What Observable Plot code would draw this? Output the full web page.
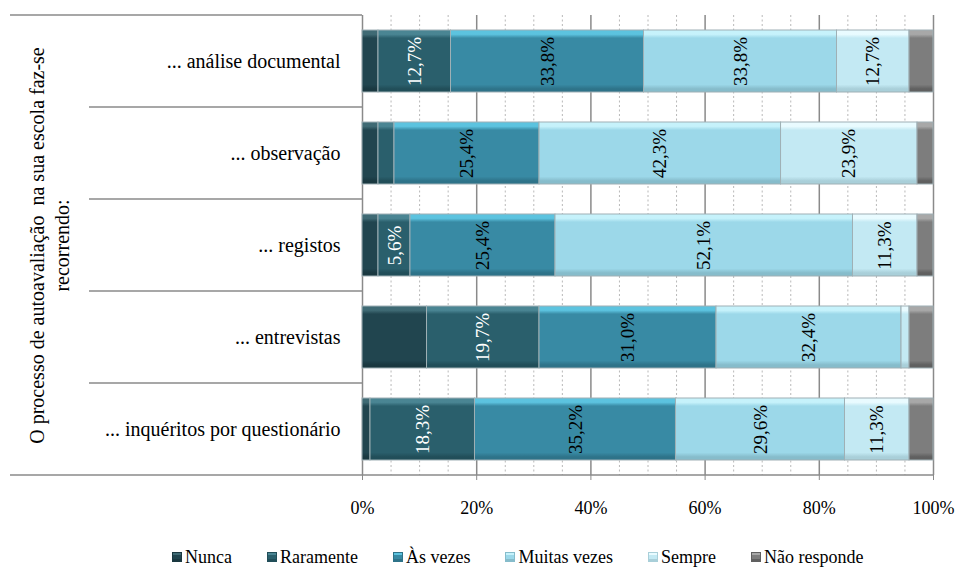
<!DOCTYPE html>
<html><head><meta charset="utf-8">
<script src="https://cdn.jsdelivr.net/npm/d3@7"></script>
<script src="https://cdn.jsdelivr.net/npm/@observablehq/plot@0.6"></script>
<style>
body{margin:0;background:#fff;font-family:"Liberation Serif","Times New Roman",serif;}
#legend{display:flex;align-items:center;padding-left:172px;height:34px;font-size:18px;color:#000;font-family:"Liberation Serif","Times New Roman",serif;}
.item{display:flex;align-items:center;margin-right:35px;white-space:nowrap;}
.sw{width:10px;height:10px;margin-right:3px;box-sizing:border-box;}
</style></head><body><div id="chart"></div><div id="legend"></div>
<script>
// ---- data ----
const categories = ["... análise documental", "... observação", "... registos", "... entrevistas", "... inquéritos por questionário"];
const series = ["Nunca", "Raramente", "Às vezes", "Muitas vezes", "Sempre", "Não responde"];
const nunca       = [2.8, 2.8, 2.8, 11.3, 1.4];
const raramente   = [12.7, 2.8, 5.6, 19.7, 18.3];
const asVezes     = [33.8, 25.4, 25.4, 31.0, 35.2];
const muitasVezes = [33.8, 42.3, 52.1, 32.4, 29.6];
const sempre      = [12.7, 23.9, 11.3, 1.4, 11.3];
const naoResponde = [4.2, 2.8, 2.8, 4.2, 4.2];
const xTicks = [0, 20, 40, 60, 80, 100];
const minorTicks = [5, 10, 15, 25, 30, 35, 45, 50, 55, 65, 70, 75, 85, 90, 95];
const yTitle1 = "O processo de autoavaliação  na sua escola faz-se";
const yTitle2 = "recorrendo:";

// ---- styles ----
const serif = "'Liberation Serif', 'Times New Roman', serif";
const baseColors = ["#21454f", "#2a5f6c", "#388aa4", "#9cd8e9", "#c3e9f3", "#7d7d7d"];
const topColors  = ["#3f6a74", "#4a8593", "#5cc3df", "#c6f2fb", "#e9fbff", "#a8a8a8"];
const botColors  = ["#1a3840", "#214e59", "#2e7389", "#86bccb", "#a9cfd9", "#606060"];
const whiteLabelSeries = ["Raramente"];
const hiddenLabelSeries = ["Nunca", "Não responde"];

const valuesBySeries = [nunca, raramente, asVezes, muitasVezes, sempre, naoResponde];
const rows = categories.flatMap((c, i) => series.map((s, j) => ({category: c, series: s, value: valuesBySeries[j][i]})));
const fmt = v => v.toFixed(1).replace(".", ",") + "%";
const showLabel = d => !hiddenLabelSeries.includes(d.series) && d.value >= 5;

const plot = Plot.plot({
  width: 956, height: 540,
  marginLeft: 362, marginRight: 23, marginTop: 15, marginBottom: 65,
  style: {fontFamily: serif, fontSize: "18px", color: "#000", background: "#fff", overflow: "visible"},
  x: {domain: [0, 100], label: null},
  y: {domain: categories, paddingInner: 0.33, paddingOuter: 0.165, label: null},
  color: {domain: series, range: series.map((s, i) => `url(#grad${i})`)},
  marks: [
    Plot.ruleX(minorTicks, {stroke: "#b8b8b8", strokeDasharray: "2,2.5", strokeWidth: 1}),
    Plot.ruleX(xTicks, {stroke: "#8a8a8a", strokeWidth: 1.5}),
    Plot.barX(rows, Plot.stackX({x: "value", y: "category", fill: "series", stroke: "#9fb0b5", strokeWidth: 1})),
    Plot.text(rows, Plot.stackX({x: "value", y: "category",
      text: d => (showLabel(d) && !whiteLabelSeries.includes(d.series)) ? fmt(d.value) : null,
      rotate: -90, lineAnchor: "middle", textAnchor: "middle", fill: "#000", fontSize: 19, fontFamily: serif})),
    Plot.text(rows, Plot.stackX({x: "value", y: "category",
      text: d => (showLabel(d) && whiteLabelSeries.includes(d.series)) ? fmt(d.value) : null,
      rotate: -90, lineAnchor: "middle", textAnchor: "middle", fill: "#fff", fontSize: 19, fontFamily: serif})),
    Plot.axisX({ticks: xTicks, tickFormat: d => d + "%", tickSize: 5, tickPadding: 21, stroke: "#8a8a8a", fontSize: 18, fontFamily: serif, label: null}),
    Plot.axisY({tickSize: 0, tickPadding: 22, fontSize: 20, fontFamily: serif, label: null}),
    Plot.text([yTitle1], {frameAnchor: "left", rotate: -90, dx: -325, fontSize: 20, fontFamily: serif, textAnchor: "middle", lineAnchor: "middle"}),
    Plot.text([yTitle2], {frameAnchor: "left", rotate: -90, dx: -300, fontSize: 20, fontFamily: serif, textAnchor: "middle", lineAnchor: "middle"})
  ]
});

const svg = d3.select(plot);
// gradients for bevel look
const defs = svg.insert("defs", ":first-child");
series.forEach((s, i) => {
  const g = defs.append("linearGradient").attr("id", `grad${i}`).attr("x1", 0).attr("y1", 0).attr("x2", 0).attr("y2", 1);
  g.append("stop").attr("offset", "0").attr("stop-color", topColors[i]);
  g.append("stop").attr("offset", "0.07").attr("stop-color", topColors[i]);
  g.append("stop").attr("offset", "0.13").attr("stop-color", baseColors[i]);
  g.append("stop").attr("offset", "0.88").attr("stop-color", baseColors[i]);
  g.append("stop").attr("offset", "0.95").attr("stop-color", botColors[i]);
  g.append("stop").attr("offset", "1").attr("stop-color", botColors[i]);
});

// table-like separators on the left, using the plot's own scales
const ys = plot.scale("y"), xs = plot.scale("x");
const bw = ys.bandwidth;
const starts = categories.map(c => ys.apply(c));
const step = starts[1] - starts[0];
const gap = (step - bw) / 2;
const x0 = xs.apply(0), x100 = xs.apply(100);
const lines = svg.append("g").attr("stroke", "#8a8a8a").attr("stroke-width", 1.5);
const yTop = starts[0] - gap, yBot = starts[starts.length - 1] + bw + gap;
lines.append("line").attr("x1", 10).attr("x2", x0).attr("y1", yTop).attr("y2", yTop);
lines.append("line").attr("x1", 10).attr("x2", x100).attr("y1", yBot).attr("y2", yBot);
for (let i = 1; i < starts.length; i++) {
  const yy = starts[i] - gap;
  lines.append("line").attr("x1", 89).attr("x2", x0).attr("y1", yy).attr("y2", yy);
}
document.getElementById("chart").appendChild(plot);

// legend
const leg = d3.select("#legend");
series.forEach((s, i) => {
  const it = leg.append("div").attr("class", "item");
  it.append("div").attr("class", "sw")
    .style("background", `linear-gradient(${topColors[i]} 0 20%, ${baseColors[i]} 20% 80%, ${botColors[i]} 80%)`)
    .style("border", `1px solid ${botColors[i]}`);
  it.append("span").text(s);
});
</script></body></html>
